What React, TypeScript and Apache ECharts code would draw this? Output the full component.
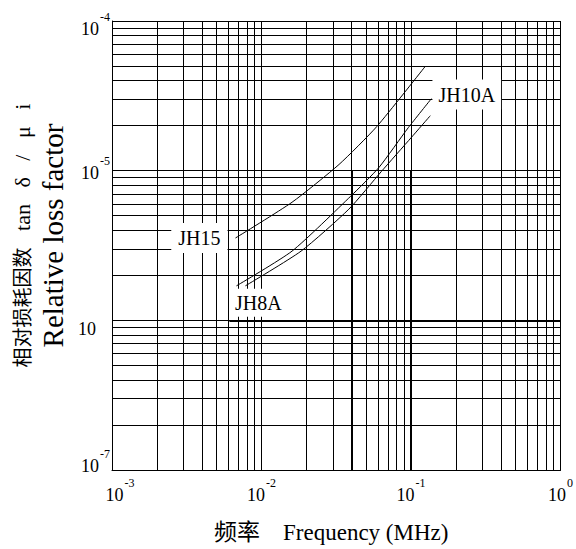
import React, { useEffect, useRef } from 'react';
import * as echarts from 'echarts';

// Frequency axis (MHz) and relative loss factor axis, both logarithmic
const frequencyDecades = [0.001, 0.01, 0.1];
const lossDecades = [1e-7, 1e-6, 1e-5];
const gridMultipliers = [1, 2, 3, 4, 5, 6, 7, 8, 9];

const xTickValues = [0.001, 0.01, 0.1, 1];
const xTickSuperscripts = ['-3', '-2', '-1', '0'];
const yTickValues = [1e-7, 1e-6, 1e-5, 1e-4];
const yTickSuperscripts = ['-7', '', '-5', '-4'];

// Material curves: frequency (MHz) vs tan δ / μi
const jh15Frequency = [0.0067, 0.016, 0.033, 0.059, 0.125];
const jh15Loss = [3.55e-6, 6.15e-6, 1.1e-5, 1.97e-5, 5.0e-5];

const jh10aFrequency = [0.0068, 0.016, 0.0395, 0.061, 0.096, 0.137];
const jh10aLoss = [1.7e-6, 2.9e-6, 6.75e-6, 1.05e-5, 1.94e-5, 3.03e-5];

const jh8aFrequency = [0.0078, 0.0184, 0.0384, 0.0635, 0.1007, 0.1346];
const jh8aLoss = [1.7e-6, 2.9e-6, 5.53e-6, 9.9e-6, 1.67e-5, 2.33e-5];

// Heavier grid segments printed on the chart
const heavySegments: [number, number][][] = [
  [[0.04, 1e-5], [0.04, 1e-7]],
  [[0.1, 1e-5], [0.1, 1e-7]],
  [[0.0061, 1e-6], [1, 1e-6]],
];

const SERIF = "'Liberation Serif', 'Times New Roman', 'Noto Sans CJK SC', serif";

const indexOfTick = (ticks: number[], value: number) =>
  ticks.findIndex((t) => Math.abs(Math.log10(t) - Math.log10(value)) < 1e-6);

const App: React.FC = () => {
  const ref = useRef<HTMLDivElement>(null);

  useEffect(() => {
    if (!ref.current) return;
    const chart = echarts.init(ref.current, null, { renderer: 'svg' });

    const xGrid = [...frequencyDecades.flatMap((d) => gridMultipliers.map((m) => d * m)), 1];
    const yGrid = [...lossDecades.flatMap((d) => gridMultipliers.map((m) => d * m)), 1e-4];

    const gridLine = { color: '#000', width: 1, type: 'solid' as const };

    const curve = (name: string, freq: number[], loss: number[], markPoint: any) => ({
      name,
      type: 'line',
      data: freq.map((f, i) => [f, loss[i]]),
      symbol: 'none',
      smooth: 0.2,
      lineStyle: { color: '#000', width: 1 },
      z: 2,
      silent: true,
      markPoint,
    });

    const curveLabel = (text: string, coord: number[], label: any) => ({
      symbol: 'circle',
      symbolSize: 0,
      silent: true,
      z: 10,
      data: [{ coord }],
      label: {
        show: true,
        formatter: text,
        color: '#000',
        fontFamily: SERIF,
        fontSize: 20,
        lineHeight: 20,
        backgroundColor: '#fff',
        ...label,
      },
    });

    const option: any = {
      animation: false,
      backgroundColor: '#fff',
      grid: { left: 112, right: 13, top: 21, bottom: 77, containLabel: false },
      xAxis: {
        type: 'log',
        logBase: 10,
        min: 0.001,
        max: 1,
        name: '频率    Frequency (MHz)',
        nameLocation: 'middle',
        nameGap: 51,
        nameTextStyle: { fontFamily: SERIF, fontSize: 23, color: '#000', padding: [0, 10, 0, 0] },
        axisLine: { show: true, lineStyle: { color: '#000', width: 1 } },
        axisTick: { show: false },
        splitLine: { show: false },
        axisLabel: {
          show: true,
          showMinLabel: true,
          showMaxLabel: true,
          margin: 7,
          color: '#000',
          fontFamily: SERIF,
          formatter: (v: number) => {
            const i = indexOfTick(xTickValues, v);
            if (i < 0) return '';
            const base = i === 0 ? 'b0' : 'b';
            return `{${base}|10}{s|${xTickSuperscripts[i]}}`;
          },
          rich: {
            b: { fontFamily: SERIF, fontSize: 18, color: '#000', verticalAlign: 'bottom' },
            b0: { fontFamily: SERIF, fontSize: 18, color: '#000', verticalAlign: 'bottom', padding: [0, 0, 0, 16] },
            s: { fontFamily: SERIF, fontSize: 12, color: '#000', verticalAlign: 'bottom', padding: [0, 0, 15, 1] },
          },
        },
      },
      yAxis: {
        type: 'log',
        logBase: 10,
        min: 1e-7,
        max: 1e-4,
        name: '{c|相对损耗因数}{a|   tan   δ   /   μ   i}\n{b|Relative loss factor}',
        nameLocation: 'middle',
        nameRotate: 90,
        nameGap: 44,
        nameTextStyle: {
          color: '#000',
          padding: [0, 0, 0, 20],
          rich: {
            c: { fontFamily: SERIF, fontSize: 20, lineHeight: 30, color: '#000' },
            a: { fontFamily: SERIF, fontSize: 22, lineHeight: 30, color: '#000' },
            b: { fontFamily: SERIF, fontSize: 29, lineHeight: 30, color: '#000' },
          },
        },
        axisLine: { show: true, lineStyle: { color: '#000', width: 1 } },
        axisTick: { show: false },
        splitLine: { show: false },
        axisLabel: {
          show: true,
          showMinLabel: true,
          showMaxLabel: true,
          margin: 2,
          color: '#000',
          fontFamily: SERIF,
          formatter: (v: number) => {
            const i = indexOfTick(yTickValues, v);
            if (i < 0) return '';
            const sup = yTickSuperscripts[i];
            if (!sup) return `{bn${i}|10}`;
            return `{b${i}|10}{s${i}|${sup}}`;
          },
          rich: {
            b0: { fontFamily: SERIF, fontSize: 18, color: '#000', verticalAlign: 'bottom', padding: [0, 0, 18, 0] },
            s0: { fontFamily: SERIF, fontSize: 12, color: '#000', verticalAlign: 'bottom', padding: [0, 0, 33, 1] },
            bn1: { fontFamily: SERIF, fontSize: 18, color: '#000', verticalAlign: 'bottom', padding: [18, 14, 0, 0] },
            b2: { fontFamily: SERIF, fontSize: 18, color: '#000', verticalAlign: 'bottom', padding: [0, 0, 4, 0] },
            s2: { fontFamily: SERIF, fontSize: 12, color: '#000', verticalAlign: 'bottom', padding: [0, 0, 19, 1] },
            b3: { fontFamily: SERIF, fontSize: 18, color: '#000', verticalAlign: 'bottom', padding: [16, 0, 0, 0] },
            s3: { fontFamily: SERIF, fontSize: 12, color: '#000', verticalAlign: 'bottom', padding: [0, 0, 15, 1] },
          },
        },
      },
      series: [
        {
          name: 'grid',
          type: 'line',
          data: [],
          silent: true,
          z: 1,
          markLine: {
            silent: true,
            z: 1,
            precision: 12,
            symbol: ['none', 'none'],
            label: { show: false },
            emphasis: { disabled: true },
            lineStyle: gridLine,
            data: [
              ...xGrid.map((v) => ({ xAxis: v })),
              ...yGrid.map((v) => ({ yAxis: v })),
              ...heavySegments.map((seg) => [
                { coord: seg[0], lineStyle: { ...gridLine, width: 2 } },
                { coord: seg[1] },
              ]),
            ],
          },
        },
        curve(
          'JH15',
          jh15Frequency,
          jh15Loss,
          curveLabel('JH15', [jh15Frequency[0], jh15Loss[0]], {
            position: 'left',
            distance: 8,
            padding: [5, 7, 5, 7],
          })
        ),
        curve(
          'JH10A',
          jh10aFrequency,
          jh10aLoss,
          curveLabel('JH10A', [jh10aFrequency[jh10aFrequency.length - 1], jh10aLoss[jh10aLoss.length - 1]], {
            position: 'right',
            distance: 1,
            offset: [0, -4],
            padding: [5, 6, 5, 6],
          })
        ),
        curve(
          'JH8A',
          jh8aFrequency,
          jh8aLoss,
          curveLabel('JH8A', [jh8aFrequency[0], jh8aLoss[0]], {
            position: 'bottom',
            distance: 3,
            offset: [13, 0],
            padding: [4, 5, 4, 5],
          })
        ),
      ],
    };

    chart.setOption(option);
    return () => chart.dispose();
  }, []);

  return (
    <div
      ref={ref}
      style={{ position: 'fixed', left: 0, top: 0, width: 576, height: 549, background: '#fff' }}
    />
  );
};

export default App;
